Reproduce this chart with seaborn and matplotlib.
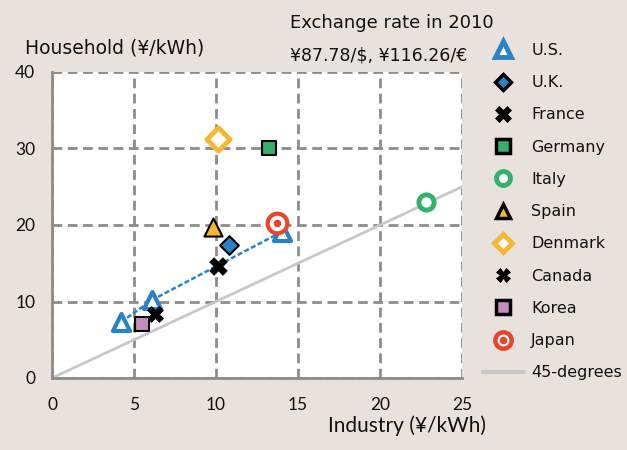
import matplotlib
matplotlib.use("Agg")
import matplotlib.pyplot as plt
import seaborn as sns
from matplotlib.legend_handler import HandlerTuple
from matplotlib.lines import Line2D

# industry vs household electricity prices (yen/kWh), 2010
countries = ["U.S.", "U.K.", "France", "Germany", "Italy", "Spain",
             "Denmark", "Canada", "Korea", "Japan"]
industry = {"U.S.": [4.2, 6.1, 14.0], "U.K.": [10.8], "France": [10.1],
            "Germany": [13.2], "Italy": [22.8], "Spain": [9.8],
            "Denmark": [10.1], "Canada": [6.3], "Korea": [5.5], "Japan": [13.7]}
household = {"U.S.": [7.3, 10.2, 19.1], "U.K.": [17.4], "France": [14.6],
             "Germany": [30.1], "Italy": [23.0], "Spain": [19.7],
             "Denmark": [31.2], "Canada": [8.4], "Korea": [7.0], "Japan": [20.3]}
deg45 = [0, 25]

blue = "#2a82c6"
yellow = "#f6b733"
green = "#33b06a"
red = "#e8442e"
pink = "#c68bc0"
bg = "#e9e1db"
gray = "#8c8c8c"

styles = {
    "U.S.": dict(marker="^", s=150, facecolor="white", edgecolor=blue, linewidth=3),
    "U.K.": dict(marker="D", s=90, facecolor=blue, edgecolor="black", linewidth=1.5),
    "France": dict(marker="X", s=160, facecolor="black", edgecolor="black", linewidth=0.5),
    "Germany": dict(marker="s", s=110, facecolor=green, edgecolor="black", linewidth=1.5),
    "Italy": dict(marker="o", s=120, facecolor="white", edgecolor=green, linewidth=3.5),
    "Spain": dict(marker="^", s=170, facecolor=yellow, edgecolor="black", linewidth=1.5),
    "Denmark": dict(marker="D", s=140, facecolor="white", edgecolor=yellow, linewidth=3.5),
    "Canada": dict(marker="X", s=130, facecolor="black", edgecolor="black", linewidth=0.5),
    "Korea": dict(marker="s", s=110, facecolor=pink, edgecolor="black", linewidth=1.5),
}
# legend markers are drawn a bit differently (smaller, thick edges)
legend_styles = {
    "U.S.": dict(marker="^", markersize=11, markerfacecolor="white", markeredgecolor=blue, markeredgewidth=3.5),
    "U.K.": dict(marker="D", markersize=8, markerfacecolor=blue, markeredgecolor="black", markeredgewidth=2.5),
    "France": dict(marker="X", markersize=11, markerfacecolor="black", markeredgecolor="black", markeredgewidth=0.5),
    "Germany": dict(marker="s", markersize=10, markerfacecolor=green, markeredgecolor="black", markeredgewidth=2.5),
    "Italy": dict(marker="o", markersize=10, markerfacecolor="white", markeredgecolor=green, markeredgewidth=3.5),
    "Spain": dict(marker="^", markersize=10, markerfacecolor=yellow, markeredgecolor="black", markeredgewidth=2.5),
    "Denmark": dict(marker="D", markersize=9, markerfacecolor="white", markeredgecolor=yellow, markeredgewidth=3.5),
    "Canada": dict(marker="X", markersize=10, markerfacecolor="black", markeredgecolor="black", markeredgewidth=0.5),
    "Korea": dict(marker="s", markersize=10, markerfacecolor=pink, markeredgecolor="black", markeredgewidth=2.5),
}

sns.set_style("white")
plt.rcParams["font.family"] = ["DejaVu Sans"]
plt.rcParams["text.color"] = "#111111"

fig = plt.figure(figsize=(6.27, 4.5), dpi=100, facecolor=bg)
ax = fig.add_axes([0.083, 0.16, 0.654, 0.68])
ax.set_facecolor("white")

sns.lineplot(x=deg45, y=deg45, ax=ax, color="#c8c8c8", linewidth=2, zorder=2)
sns.lineplot(x=industry["U.S."], y=household["U.S."], ax=ax, color=blue,
             linestyle=(0, (2, 1)), linewidth=1.8, zorder=3)

handles = []
for c in countries[:-1]:
    sns.scatterplot(x=industry[c], y=household[c], ax=ax, zorder=5, **styles[c])
    handles.append(Line2D([], [], linestyle="none", **legend_styles[c]))

# Japan: red target
sns.scatterplot(x=industry["Japan"], y=household["Japan"], ax=ax, marker="o", s=200,
                facecolor="white", edgecolor=red, linewidth=3, zorder=6)
sns.scatterplot(x=industry["Japan"], y=household["Japan"], ax=ax, marker="o", s=30,
                facecolor=red, edgecolor=red, linewidth=0, zorder=7)
h_outer = Line2D([], [], linestyle="none", marker="o", markersize=14,
                 markerfacecolor=red, markeredgecolor=red)
h_ring = Line2D([], [], linestyle="none", marker="o", markersize=7,
                markerfacecolor=red, markeredgecolor="white", markeredgewidth=1.5)
handles.append((h_outer, h_ring))
handles.append(Line2D([], [], color="#c8c8c8", linewidth=3))
labels = countries + ["45-degrees"]

ax.set_xlim(0, 25)
ax.set_ylim(0, 40)
ax.set_xticks([0, 5, 10, 15, 20, 25])
ax.set_yticks([0, 10, 20, 30, 40])
ax.grid(True, color=gray, linestyle=(0, (3.5, 2)), linewidth=2)
ax.set_axisbelow(True)
for side in ["top", "right"]:
    ax.spines[side].set_visible(False)
for side in ["left", "bottom"]:
    ax.spines[side].set_color(gray)
    ax.spines[side].set_linewidth(2)
ax.tick_params(axis="both", direction="inout", length=8, width=2, color=gray,
               labelsize=12.5, labelcolor="#111111")
ax.tick_params(axis="x", pad=10)
ax.tick_params(axis="y", pad=8)
for lab in ax.get_xticklabels() + ax.get_yticklabels():
    lab.set_family(["Lato", "DejaVu Sans"])

fig.text(0.04, 0.893, "Household (\u00a5/kWh)", fontsize=13.5, ha="left", va="center")
fig.text(0.775, 0.032, "Industry (\u00a5/kWh)", fontsize=15, ha="right", va="bottom",
         family=["Lato", "DejaVu Sans"])
fig.text(0.462, 0.95, "Exchange rate in 2010", fontsize=13, ha="left", va="center")
fig.text(0.462, 0.877, "\u00a587.78/$, \u00a5116.26/\u20ac", fontsize=12.5,
         ha="left", va="center")

leg = ax.legend(handles, labels, handler_map={tuple: HandlerTuple(ndivide=1, pad=0)},
                loc="upper left", bbox_to_anchor=(1.015, 1.142), frameon=False,
                fontsize=11.5, labelspacing=1.08, handlelength=2.6,
                handletextpad=0.45)

fig.savefig("out.png", dpi=100, facecolor=bg)
